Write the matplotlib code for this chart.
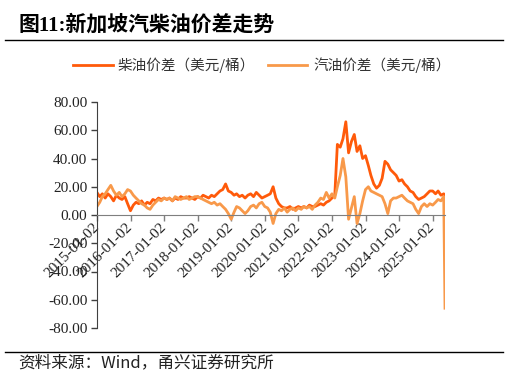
import pandas as pd
import matplotlib
matplotlib.use('Agg')
import matplotlib.pyplot as plt
import matplotlib.dates as mdates
from matplotlib.lines import Line2D
from matplotlib.ticker import FuncFormatter, FixedLocator

# monthly readings, 2015-01 .. 2025-05, plus the last print in mid May 2025
months = list(pd.date_range('2015-01-01', '2025-05-01', freq='MS').to_pydatetime())
dates = months + [pd.Timestamp('2025-05-15').to_pydatetime()]

diesel = [
    16, 13, 15, 12, 15, 13, 10, 14, 12, 11, 13, 8,    # 2015
    3, 7, 9, 8, 10, 7, 9, 8, 11, 10, 12, 11,          # 2016
    12, 11, 12, 10, 12, 11, 13, 12, 12, 13, 12, 11,   # 2017
    13, 12, 14, 13, 12, 14, 13, 15, 17, 18, 22, 17,   # 2018
    16, 14, 15, 13, 14, 12, 14, 15, 13, 16, 14, 12,   # 2019
    13, 14, 15, 20, 12, 8, 6, 5, 5, 6, 4, 5,          # 2020
    6, 5, 6, 5, 7, 6, 6, 7, 8, 7, 9, 10,              # 2021
    12, 14, 50, 48, 54, 66, 44, 52, 57, 45, 49, 40,   # 2022
    42, 35, 28, 22, 19, 21, 26, 38, 36, 32, 30, 28,   # 2023
    24, 25, 22, 20, 17, 16, 13, 11, 12, 13, 15, 17,   # 2024
    17, 15, 17, 14, 15, 14,                           # 2025
]
gasoline = [
    6, 9, 13, 15, 18, 21, 17, 14, 16, 13, 15, 18,     # 2015
    17, 14, 12, 10, 8, 7, 5, 4, 7, 9, 11, 10,         # 2016
    12, 11, 12, 10, 13, 12, 11, 12, 13, 11, 12, 13,   # 2017
    13, 12, 11, 10, 9, 8, 9, 7, 8, 6, 4, 1,           # 2018
    -3, 2, 6, 5, 3, 1, 3, 6, 7, 5, 8, 9,              # 2019
    6, 5, 2, -6, 1, 4, 3, 5, 2, 4, 5, 3,              # 2020
    5, 4, 6, 5, 6, 4, 7, 9, 12, 11, 16, 12,           # 2021
    15, 12, 20, 28, 40, 27, -3, 5, 13, -6, 1, 10,     # 2022
    18, 20, 17, 16, 15, 14, 13, 8, 1, 10, 12, 12,     # 2023
    13, 14, 12, 10, 9, 8, 4, 1, 6, 8, 6, 8,           # 2024
    7, 9, 11, 10, 13, -66,                            # 2025
]
years = list(range(2015, 2026))
tick_dates = [mdates.date2num(pd.Timestamp(f'{y}-01-02').to_pydatetime()) for y in years]

c_diesel = '#FF5A0A'
c_gas = '#F8994A'
W, H = 509, 379

fig = plt.figure(figsize=(W / 100, H / 100), dpi=100)
ax = fig.add_axes([97 / W, 1 - 328 / H, 348 / W, 226 / H])

x = mdates.date2num(dates)
ax.plot(x, diesel, color=c_diesel, lw=2)
ax.plot(x, gasoline, color=c_gas, lw=2)

# spines first: moving a spine resets the tick objects
ax.spines['top'].set_visible(False)
ax.spines['right'].set_visible(False)
ax.spines['bottom'].set_position(('data', 0))
ax.spines['bottom'].set_color('#7f7f7f')
ax.spines['left'].set_color('#404040')

ax.set_ylim(-80, 80)
ax.set_yticks(range(-80, 81, 20))
ax.yaxis.set_major_formatter(FuncFormatter(lambda v, p: f'{v:.2f}'))
ax.set_xlim(tick_dates[0], mdates.date2num(dates[-1]))
ax.xaxis.set_major_locator(FixedLocator(tick_dates))
ax.xaxis.set_major_formatter(FuncFormatter(lambda v, p: mdates.num2date(v).strftime('%Y-%m-%d')))

ax.tick_params(axis='y', direction='out', length=4, width=1, color='#404040', pad=3)
ax.tick_params(axis='x', direction='out', length=4, width=1, color='#7f7f7f', pad=3,
               labelrotation=45)

for lab in ax.get_xticklabels():
    lab.set_ha('right')
    lab.set_va('center')
    lab.set_rotation_mode('anchor')
for lab in ax.get_xticklabels() + ax.get_yticklabels():
    lab.set_fontfamily('Liberation Serif')
    lab.set_fontsize(11)
    lab.set_color('#222222')

# title and rules
fig.text(18 / W, 1 - 25 / H, '图11:新加坡汽柴油价差走势', fontsize=15, fontweight='bold',
         family=['Liberation Serif', 'Noto Sans CJK SC'], va='center')
fig.add_artist(Line2D([5 / W, 503 / W], [1 - 39.5 / H] * 2, color='black', lw=1))
fig.add_artist(Line2D([5 / W, 503 / W], [1 - 352 / H] * 2, color='black', lw=1))

# legend
ly = 1 - 65 / H
fig.add_artist(Line2D([73 / W, 113 / W], [ly, ly], color=c_diesel, lw=2))
fig.text(118 / W, ly, '柴油价差（美元/桶）', fontsize=10.5, family=['Noto Sans CJK SC'],
         va='center', color='#333333')
fig.add_artist(Line2D([268 / W, 307 / W], [ly, ly], color=c_gas, lw=2))
fig.text(313 / W, ly, '汽油价差（美元/桶）', fontsize=10.5, family=['Noto Sans CJK SC'],
         va='center', color='#333333')

fig.text(18 / W, 1 - 363 / H, '资料来源：Wind，甬兴证券研究所', fontsize=12,
         family=['Noto Sans CJK SC'], va='center', color='#222222')

fig.savefig('out.png', dpi=100)
